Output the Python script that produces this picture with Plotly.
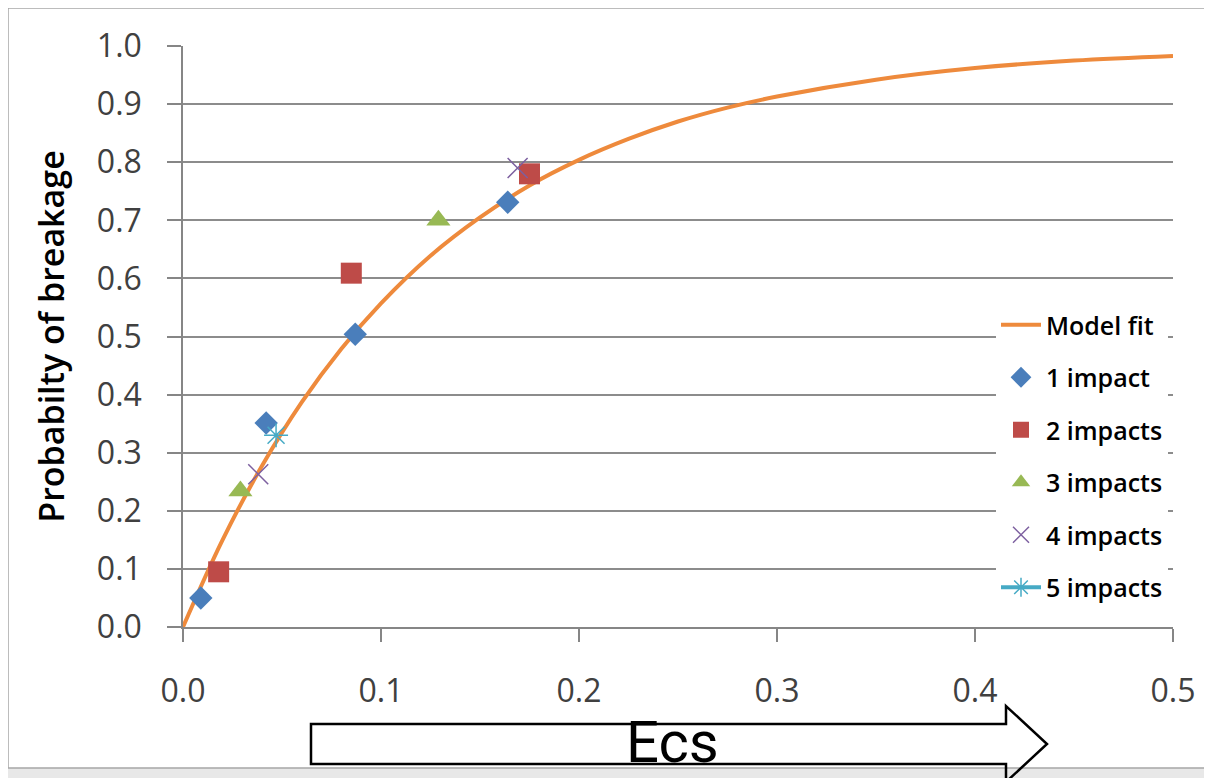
import plotly.graph_objects as go

# ---- data ----
fit_x = [0, 0.02, 0.04, 0.06, 0.08, 0.10, 0.125, 0.15, 0.175, 0.20, 0.225, 0.25, 0.275,
         0.30, 0.35, 0.40, 0.45, 0.50]
fit_y = [0, 0.150, 0.278, 0.387, 0.479, 0.557, 0.639, 0.705, 0.760, 0.804, 0.840, 0.870,
         0.894, 0.913, 0.942, 0.962, 0.975, 0.983]

imp1_x = [0.009, 0.042, 0.087, 0.164]
imp1_y = [0.050, 0.351, 0.504, 0.731]
imp2_x = [0.018, 0.085, 0.175]
imp2_y = [0.095, 0.609, 0.780]
imp3_x = [0.029, 0.129]
imp3_y = [0.234, 0.700]
imp4_x = [0.038, 0.169]
imp4_y = [0.263, 0.790]
imp5_x = [0.047]
imp5_y = [0.330]

x_ticks = [0.0, 0.1, 0.2, 0.3, 0.4, 0.5]
y_ticks = [0.0, 0.1, 0.2, 0.3, 0.4, 0.5, 0.6, 0.7, 0.8, 0.9, 1.0]

OFF = 8                      # page body margin
W, H = 1212 - OFF, 778 - OFF
SL, SR, ST, SB = 183, 1173, 46, 627   # plot area in screen pixels
L, R, T, B = SL - OFF, SR - OFF, ST - OFF, SB - OFF


def px(sx):
    return (sx - SL) / (SR - SL)


def py(sy):
    return (SB - sy) / (SB - ST)


fig = go.Figure()
fig.add_trace(go.Scatter(x=fit_x, y=fit_y, mode="lines", name="Model fit",
                         line=dict(color="#EE8A3C", width=4, shape="spline", smoothing=1.0),
                         legendgroup="a"))
fig.add_trace(go.Scatter(x=imp1_x, y=imp1_y, mode="markers", name="1 impact",
                         marker=dict(symbol="diamond", size=18, color="#4A7EBB"),
                         legendgroup="b"))
fig.add_trace(go.Scatter(x=imp2_x, y=imp2_y, mode="markers", name="2 impacts",
                         marker=dict(symbol="square", size=21, color="#BE4B48"),
                         legendgroup="c"))
fig.add_trace(go.Scatter(x=imp3_x, y=imp3_y, mode="markers", name="3 impacts",
                         marker=dict(symbol="triangle-up", size=21, color="#98B954"),
                         legendgroup="d"))
fig.add_trace(go.Scatter(x=imp4_x, y=imp4_y, mode="markers", name="4 impacts",
                         marker=dict(symbol="x-thin-open", size=20, color="#7D60A0",
                                     line=dict(width=1.5, color="#7D60A0")),
                         legendgroup="e"))
fig.add_trace(go.Scatter(x=imp5_x, y=imp5_y, mode="lines+markers", name="5 impacts",
                         line=dict(color="#46AAC5", width=4),
                         marker=dict(symbol="asterisk-open", size=20, color="#46AAC5",
                                     line=dict(width=1.5, color="#46AAC5")),
                         legendgroup="f"))

tick_font = dict(family="Open Sans, DejaVu Sans, sans-serif", size=32, color="#404040")

fig.update_layout(
    width=W, height=H, autosize=False,
    margin=dict(l=L, r=W - R, t=T, b=H - B, pad=0),
    paper_bgcolor="#e8e8e8",
    plot_bgcolor="white",
    showlegend=True,
    legend=dict(x=px(996), y=py(302), xanchor="left", yanchor="top",
                bgcolor="white", borderwidth=0, tracegroupgap=17,
                font=dict(family="Open Sans, DejaVu Sans, sans-serif", size=25,
                          color="black", weight=600),
                itemwidth=40),
    xaxis=dict(range=[0, 0.5], tickvals=x_ticks, ticktext=[f"{v:.1f}" for v in x_ticks],
               showgrid=False, zeroline=False, showline=True, linecolor="#868686",
               linewidth=1.5, ticks="outside", ticklen=13, tickwidth=1.5,
               tickcolor="#868686", tickfont=tick_font, ticklabelstandoff=22),
    yaxis=dict(range=[0, 1.0], tickvals=y_ticks, ticktext=[f"{v:.1f}" for v in y_ticks],
               showgrid=True, gridcolor="#8c8c8c", gridwidth=1.5, zeroline=False,
               showline=True, linecolor="#868686", linewidth=1.5,
               ticks="outside", ticklen=14, tickwidth=1.5, tickcolor="#868686",
               tickfont=tick_font, ticklabelstandoff=19,
               title=dict(text="Probabilty of breakage",
                          font=dict(family="Open Sans, DejaVu Sans, sans-serif",
                                    size=34, color="black", weight=600),
                          standoff=22)),
)

# white chart-area box with grey border
fig.add_shape(type="rect", xref="paper", yref="paper",
              x0=px(8), x1=px(1260), y0=py(768), y1=py(8),
              fillcolor="white", line=dict(color="#a6a6a6", width=1.5), layer="below")

# arrow under the axis
pts = [(311, 724), (1006, 724), (1006, 706), (1047, 744), (1006, 782),
       (1006, 764), (311, 764)]
path = "M " + " L ".join(f"{px(a):.5f},{py(b):.5f}" for a, b in pts) + " Z"
fig.add_shape(type="path", xref="paper", yref="paper", path=path,
              fillcolor="rgba(0,0,0,0)", line=dict(color="black", width=2.5))

fig.add_annotation(text="Ecs", xref="paper", yref="paper", x=px(672), y=py(742),
                   xanchor="center", yanchor="middle", showarrow=False,
                   font=dict(family="Liberation Sans Narrow, Roboto, sans-serif",
                             size=58, color="black"))

fig.write_html("out.html")
